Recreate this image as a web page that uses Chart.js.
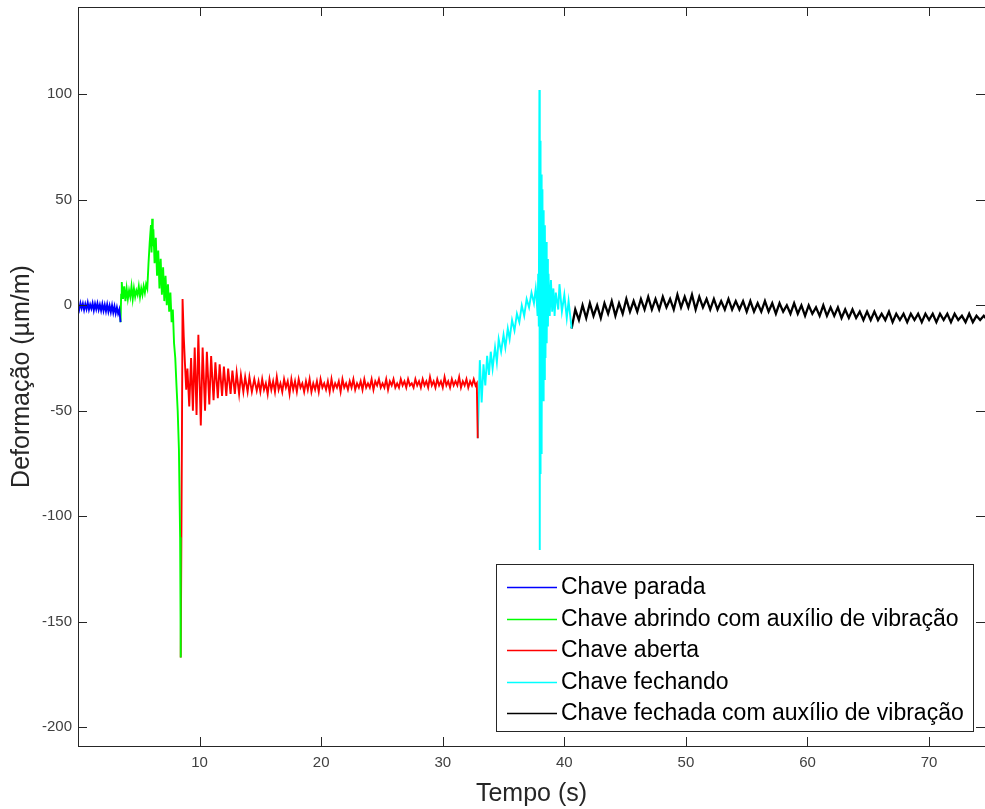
<!DOCTYPE html>
<html>
<head>
<meta charset="utf-8">
<script src="https://cdn.jsdelivr.net/npm/chart.js@4.4.1/dist/chart.umd.min.js"></script>
<style>
  body{margin:0;background:#fff;}
  canvas{display:block;}
</style>
</head>
<body>
<canvas id="grafico" width="985" height="809"></canvas>
<script>
// ticks
const xTicks=[10,20,30,40,50,60,70];
const yTicks=[-200,-150,-100,-50,0,50,100];

const labels=["Chave parada","Chave abrindo com auxílio de vibração","Chave aberta","Chave fechando","Chave fechada com auxílio de vibração"];
const cores=["#0000ff","#00ff00","#ff0000","#00ffff","#000000"];
const espessuras=[1.9,1.9,1.9,1.9,2.3];

// Chave parada
const tParada=[0,0.1,0.2,0.3,0.4,0.5,0.6,0.7,0.8,0.9,1.0,1.1,1.2,1.3,1.4,1.5,1.6,1.7,1.8,1.9,2.0,2.1,2.2,2.3,2.4,2.5,2.6,2.7,2.8,2.9,3.0,3.1,3.2,3.3,3.4,3.5];
const yParada=[0.5,-2,1,-1.5,0.8,-2.2,0.6,-1.8,1.2,-2,0.4,-1.6,1,-2.4,0.7,-1.9,0.9,-2.1,0.3,-2.5,0.6,-2.6,0.2,-2.8,0.4,-3,-0.2,-3.2,0,-3.5,-0.5,-3.8,-1,-4,-2,-8];

// Chave abrindo
const tAbrindo=[3.5,3.55,3.6,3.7,3.8,3.9,4.0,4.1,4.2,4.3,4.4,4.5,4.6,4.7,4.8,4.9,5.0,5.1,5.2,5.3,5.4,5.5,5.6,5.7,5.8,5.9,6.0,6.05,6.1,6.15,6.2,6.3,6.4,6.5,6.6,6.7,6.8,6.9,7.0,7.1,7.2,7.3,7.4,7.5,7.6,7.7,7.8,7.9,8.0,8.1,8.2,8.3,8.4,8.45];
const yAbrindo=[-8,5,11,3,9,2,8,3,7,4,9,3,8,4,7,5,9,4,8,5,9,6,10,8,20,30,38,25,41,28,36,20,32,14,26,8,22,5,18,2,14,0,10,-3,6,-8,-2,-18,-25,-38,-50,-68,-110,-167];

// Chave aberta
const tAberta=[8.45,8.55,8.6,8.7,8.8,8.9,9.0,9.15,9.3,9.45,9.6,9.75,9.9,10.1,10.25,10.45,10.6,10.8,10.95,11.15,11.3,11.5,11.65,11.85,12.0,12.2,12.35,12.55,12.7,12.9,13.05,13.25,13.4,13.6,13.75,13.95,14.1,14.3,14.5,14.7,
  14.85,15.0,15.15,15.3,15.45,15.6,15.75,15.9,16.05,16.2,16.35,16.5,16.65,16.8,16.95,17.1,17.25,17.4,17.55,17.7,
  17.85,18.0,18.15,18.3,18.45,18.6,18.75,18.9,19.05,19.2,19.35,19.5,19.65,19.8,19.95,20.1,20.25,20.4,20.55,20.7,
  20.85,21.0,21.15,21.3,21.45,21.6,21.75,21.9,22.05,22.2,22.35,22.5,22.65,22.8,22.95,23.1,23.25,23.4,23.55,23.7,
  23.85,24.0,24.15,24.3,24.45,24.6,24.75,24.9,25.05,25.2,25.35,25.5,25.65,25.8,25.95,26.1,26.25,26.4,26.55,26.7,
  26.85,27.0,27.15,27.3,27.45,27.6,27.75,27.9,28.05,28.2,28.35,28.5,28.65,28.8,28.95,29.1,29.25,29.4,29.55,29.7,
  29.85,30.0,30.15,30.3,30.45,30.6,30.75,30.9,31.05,31.2,31.35,31.5,31.65,31.8,31.95,32.1,32.25,32.4,32.55,32.7,
  32.8,32.88];
const yAberta=[-167,-60,3,-15,-28,-40,-30,-48,-25,-50,-20,-52,-14,-57,-20,-50,-22,-47,-24,-45,-27,-44,-28,-43,-29,-43,-30,-42,-31,-42,-32,-42,-33,-41,-34,-41,-34,-41,-35,-40.5,
  -36,-41,-35,-40,-37,-42,-35,-40,-36,-41,-34,-40,-37,-41,-35,-39,-36,-42,-35,-40,
  -36,-41,-35,-39,-37,-41,-36,-40,-35,-41,-37,-40,-36,-41,-35,-39,-37,-40,-36,-41,
  -35,-40,-37,-39,-36,-41,-35,-39,-37,-40,-36,-39,-35,-40,-37,-39,-36,-40,-35,-39,
  -37,-39,-35,-40,-36,-38,-35,-39,-37,-39,-35,-40,-36,-38,-35,-39,-37,-39,-35,-38,
  -36,-39,-35,-38,-37,-39,-35,-38,-36,-39,-35,-38,-36,-39,-34,-38,-36,-39,-35,-38,
  -36,-39,-34,-38,-36,-39,-35,-38,-36,-38,-34,-39,-36,-38,-35,-39,-36,-38,-35,-38,
  -37,-63];

// Chave fechando
const tFechando=[32.88,33.05,33.2,33.35,33.5,33.65,33.8,33.95,34.1,34.3,34.45,34.6,34.8,35.0,35.15,35.35,35.5,35.7,35.9,36.1,36.3,36.5,36.7,36.9,37.1,37.3,37.5,37.65,
  37.7,37.8,37.85,37.9,37.95,37.98,38.0,38.03,38.06,38.09,38.12,38.15,38.2,38.25,38.3,38.35,38.4,38.45,38.5,38.55,38.6,38.65,38.7,38.8,38.9,39.0,39.1,39.2,39.3,39.5,39.6,39.8,40.0,40.2,40.35,40.6];
const yFechando=[-63,-26,-46,-28,-38,-24,-33,-22,-30,-20,-27,-16,-22,-14,-20,-11,-16,-7,-12,-4,-8,0,-5,3,-1,6,1,8,
  5,-5,15,-10,102,-116,78,-80,70,-70,62,-62,55,-45,45,-35,38,-25,30,-18,22,-10,15,-5,12,-3,8,-5,6,-2,10,-3,5,-6,2,-11];

// Chave fechada
const tFechada=[40.6,40.9,41.2,41.5,41.8,42.1,42.4,42.7,43.0,43.3,43.6,43.9,44.2,44.5,44.8,45.1,45.4,45.7,46.0,46.3,46.6,46.9,47.2,47.5,47.8,48.1,48.4,48.7,49.0,49.3,49.6,49.9,
  50.2,50.5,50.8,51.1,51.4,51.7,52.0,52.3,52.6,52.9,53.2,53.5,53.8,54.1,54.4,54.7,55.0,55.3,55.6,55.9,56.2,56.5,56.8,57.1,57.4,57.7,58.0,58.3,58.6,58.9,59.2,59.5,59.8,
  60.1,60.4,60.7,61.0,61.3,61.6,61.9,62.2,62.5,62.8,63.1,63.4,63.7,64.0,64.3,64.6,64.9,65.2,65.5,65.8,66.1,66.4,66.7,67.0,67.3,67.6,67.9,68.2,68.5,68.8,69.1,69.4,69.7,
  70.0,70.3,70.6,70.9,71.2,71.5,71.8,72.1,72.4,72.7,73.0,73.3,73.6,73.9,74.2,74.5,74.8];
const yFechada=[-11,-2,-7,0,-6,1,-5,0,-6,1,-4,2,-5,1,-4,3,-3,2,-3,3,-2,4,-2,3,-2,4,-1,3,-2,5,-1,4,
  -1,5,-2,4,-1,3,-2,3,-2,2,-2,3,-2,2,-2,2,-3,2,-3,1,-3,2,-3,1,-4,1,-3,0,-4,1,-4,0,-5,
  0,-4,-1,-5,0,-5,-1,-5,-1,-6,-2,-6,-2,-6,-3,-7,-3,-7,-3,-7,-4,-7,-3,-8,-4,-7,-4,-8,-4,-7,-4,-8,-4,
  -7,-4,-8,-4,-7,-4,-8,-4,-7,-5,-8,-4,-8,-5,-7,-5,-7];

const series=[[tParada,yParada],[tAbrindo,yAbrindo],[tAberta,yAberta],[tFechando,yFechando],[tFechada,yFechada]];

const fonte='"Liberation Sans", Arial, Helvetica, sans-serif';
const corEixo='#262626';

// caixa, marcas e legenda estilo matlab
const caixaPlugin={
    id:"caixa",
    afterDraw(chart){
        const c=chart.ctx;
        const a=chart.chartArea;
        const sx=chart.scales.x, sy=chart.scales.y;
        c.save();
        c.strokeStyle=corEixo;
        c.lineWidth=1;
        c.strokeRect(a.left+0.5,a.top+0.5,a.right-a.left,a.bottom-a.top);
        c.beginPath();
        xTicks.forEach(v=>{
            const px=Math.round(sx.getPixelForValue(v))+0.5;
            c.moveTo(px,a.bottom);c.lineTo(px,a.bottom-9);
            c.moveTo(px,a.top);c.lineTo(px,a.top+9);
        });
        yTicks.forEach(v=>{
            const py=Math.round(sy.getPixelForValue(v))+0.5;
            c.moveTo(a.left,py);c.lineTo(a.left+9,py);
            c.moveTo(a.right,py);c.lineTo(a.right-9,py);
        });
        c.stroke();

        // legenda
        const bx=496.5, by=564.5, bw=477, bh=167;
        c.fillStyle="#fff";
        c.fillRect(bx,by,bw,bh);
        c.strokeStyle=corEixo;
        c.strokeRect(bx,by,bw,bh);
        c.font='23px '+fonte;
        c.textBaseline="middle";
        c.textAlign="left";
        chart.data.datasets.forEach((ds,i)=>{
            const y=587+i*31.5;
            c.strokeStyle=ds.borderColor;
            c.lineWidth=1.3;
            c.beginPath();
            c.moveTo(507,Math.round(y)+0.5);c.lineTo(557,Math.round(y)+0.5);
            c.stroke();
            c.fillStyle="#000";
            c.fillText(ds.label,561,y+1);
        });
        c.restore();
    }
};

const datasets=series.map((s,i)=>({
    label:labels[i],
    data:s[0].map((t,j)=>({x:t,y:s[1][j]})),
    borderColor:cores[i],
    backgroundColor:cores[i],
    borderWidth:espessuras[i],
    pointRadius:0,
    tension:0,
    fill:false
}));

new Chart(document.getElementById("grafico"),{
    type:"line",
    data:{datasets},
    options:{
        responsive:false,
        animation:false,
        layout:{padding:{left:0,right:0,top:7,bottom:0}},
        plugins:{legend:{display:false},tooltip:{enabled:false}},
        scales:{
            x:{
                type:"linear",min:0,max:74.6,
                afterBuildTicks:s=>{s.ticks=xTicks.map(v=>({value:v}));},
                afterFit:s=>{s.height=63;s.paddingLeft=0;s.paddingRight=0;},
                grid:{display:false,drawTicks:false},
                border:{display:false},
                ticks:{padding:8,maxRotation:0,autoSkip:false,color:"#404040",font:{family:fonte,size:15}},
                title:{display:true,text:"Tempo (s)",color:corEixo,font:{family:fonte,size:25},padding:{top:0,bottom:0}}
            },
            y:{
                type:"linear",min:-208.9,max:141.4,
                afterBuildTicks:s=>{s.ticks=yTicks.map(v=>({value:v}));},
                afterFit:s=>{s.width=78;s.paddingTop=0;s.paddingBottom=0;},
                grid:{display:false,drawTicks:false},
                border:{display:false},
                ticks:{padding:6,color:"#404040",font:{family:fonte,size:15}},
                title:{display:true,text:"Deformação (µm/m)",color:corEixo,font:{family:fonte,size:25},padding:{top:7,bottom:0}}
            }
        }
    },
    plugins:[caixaPlugin]
});
</script>
</body>
</html>
